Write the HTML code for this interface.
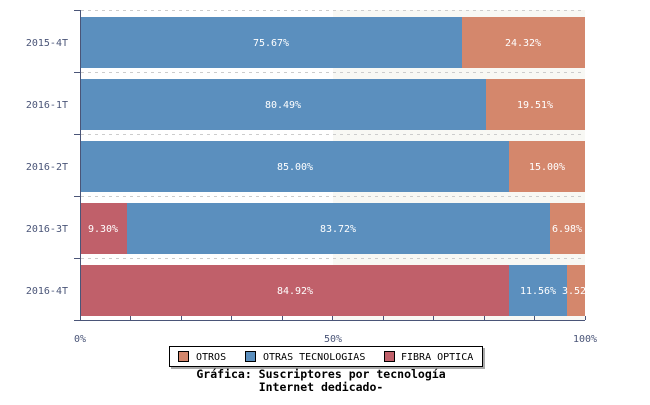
<!DOCTYPE html>
<html><head><meta charset="utf-8"><style>
body{margin:0;background:#fff;width:650px;height:400px;overflow:hidden}
svg text{font-family:"DejaVu Sans Mono","Liberation Mono",monospace}
</style></head><body>
<svg width="650" height="400" xmlns="http://www.w3.org/2000/svg">
<defs><clipPath id="c"><rect x="80" y="0" width="505" height="330"/></clipPath></defs>
<rect x="333" y="10" width="252" height="310" fill="#f8f8f4"/>
<g stroke="#ccc" stroke-dasharray="3,4" stroke-width="1">
<line x1="81" y1="10.5" x2="585" y2="10.5"/><line x1="81" y1="72.5" x2="585" y2="72.5"/>
<line x1="81" y1="134.5" x2="585" y2="134.5"/><line x1="81" y1="196.5" x2="585" y2="196.5"/>
<line x1="81" y1="258.5" x2="585" y2="258.5"/>
</g>
<g>
<rect x="80" y="17" width="382" height="51" fill="#5b8fbe"/><rect x="462" y="17" width="123" height="51" fill="#d4876c"/>
<rect x="80" y="79" width="406" height="51" fill="#5b8fbe"/><rect x="486" y="79" width="99" height="51" fill="#d4876c"/>
<rect x="80" y="141" width="429" height="51" fill="#5b8fbe"/><rect x="509" y="141" width="76" height="51" fill="#d4876c"/>
<rect x="80" y="203" width="47" height="51" fill="#c0606a"/><rect x="127" y="203" width="423" height="51" fill="#5b8fbe"/><rect x="550" y="203" width="35" height="51" fill="#d4876c"/>
<rect x="80" y="265" width="429" height="51" fill="#c0606a"/><rect x="509" y="265" width="58" height="51" fill="#5b8fbe"/><rect x="567" y="265" width="18" height="51" fill="#d4876c"/>
</g>
<g fill="#fff" font-size="10" clip-path="url(#c)">
<text x="271" y="46" text-anchor="middle">75.67%</text><text x="523" y="46" text-anchor="middle">24.32%</text>
<text x="283" y="108" text-anchor="middle">80.49%</text><text x="535" y="108" text-anchor="middle">19.51%</text>
<text x="295" y="170" text-anchor="middle">85.00%</text><text x="547" y="170" text-anchor="middle">15.00%</text>
<text x="103" y="232" text-anchor="middle">9.30%</text><text x="338" y="232" text-anchor="middle">83.72%</text><text x="567" y="232" text-anchor="middle">6.98%</text>
<text x="295" y="294" text-anchor="middle">84.92%</text><text x="538" y="294" text-anchor="middle">11.56%</text><text x="562" y="294">3.52%</text>
</g>
<g stroke="#4a5578" stroke-width="1">
<line x1="80.5" y1="10" x2="80.5" y2="320"/>
<line x1="74" y1="320.5" x2="585" y2="320.5"/>
<line x1="74" y1="10.5" x2="80" y2="10.5"/><line x1="74" y1="72.5" x2="80" y2="72.5"/><line x1="74" y1="134.5" x2="80" y2="134.5"/><line x1="74" y1="196.5" x2="80" y2="196.5"/><line x1="74" y1="258.5" x2="80" y2="258.5"/>
<line x1="130.5" y1="316" x2="130.5" y2="320"/><line x1="181.5" y1="316" x2="181.5" y2="320"/><line x1="231.5" y1="316" x2="231.5" y2="320"/><line x1="282.5" y1="316" x2="282.5" y2="320"/><line x1="332.5" y1="316" x2="332.5" y2="320"/><line x1="383.5" y1="316" x2="383.5" y2="320"/><line x1="433.5" y1="316" x2="433.5" y2="320"/><line x1="484.5" y1="316" x2="484.5" y2="320"/><line x1="534.5" y1="316" x2="534.5" y2="320"/><line x1="585.5" y1="316" x2="585.5" y2="320"/>
</g>
<g fill="#4a5578" font-size="10">
<text x="68" y="46" text-anchor="end">2015-4T</text><text x="68" y="108" text-anchor="end">2016-1T</text><text x="68" y="170" text-anchor="end">2016-2T</text><text x="68" y="232" text-anchor="end">2016-3T</text><text x="68" y="294" text-anchor="end">2016-4T</text>
<text x="80" y="342" text-anchor="middle">0%</text><text x="333" y="342" text-anchor="middle">50%</text><text x="585" y="342" text-anchor="middle">100%</text>
</g>
<rect x="171" y="348" width="314" height="21" fill="#aaa"/>
<rect x="169.5" y="346.5" width="313" height="20" fill="#fff" stroke="#000"/>
<rect x="178.5" y="351.5" width="10" height="10" fill="#d4876c" stroke="#000"/>
<rect x="245.5" y="351.5" width="10" height="10" fill="#5b8fbe" stroke="#000"/>
<rect x="384.5" y="351.5" width="10" height="10" fill="#c0606a" stroke="#000"/>
<g font-size="10" fill="#000">
<text x="196" y="360">OTROS</text><text x="263" y="360">OTRAS TECNOLOGIAS</text><text x="401" y="360">FIBRA OPTICA</text>
</g>
<g font-size="11.5" font-weight="bold" fill="#000" text-anchor="middle">
<text x="321" y="378">Gráfica: Suscriptores por tecnología</text>
<text x="321" y="391">Internet dedicado-</text>
</g>
</svg>
</body></html>
